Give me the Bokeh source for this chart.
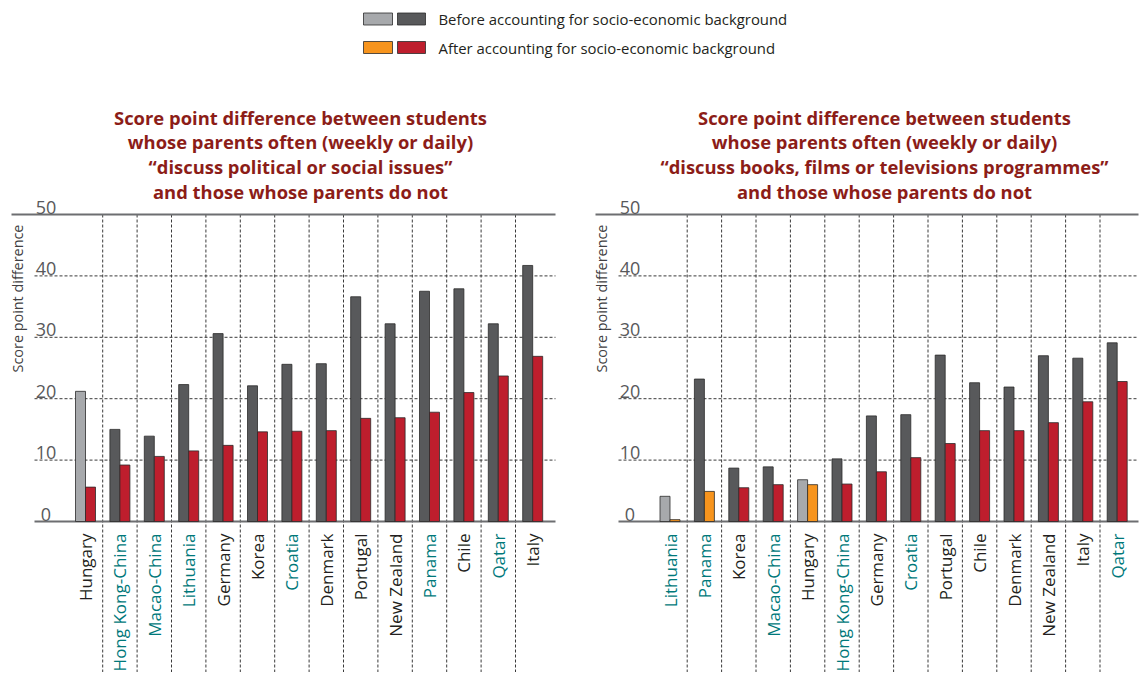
import math
from bokeh.plotting import figure
from bokeh.models import Range1d, ColumnDataSource
from bokeh.core.properties import value
from bokeh.embed import file_html
from bokeh.resources import INLINE

# ---------------- data ----------------
pol_countries = ["Hungary", "Hong Kong-China", "Macao-China", "Lithuania", "Germany", "Korea",
                 "Croatia", "Denmark", "Portugal", "New Zealand", "Panama", "Chile", "Qatar", "Italy"]
pol_before = [21.2, 15.0, 13.9, 22.3, 30.6, 22.1, 25.6, 25.7, 36.6, 32.2, 37.5, 37.9, 32.2, 41.7]
pol_after = [5.6, 9.2, 10.6, 11.5, 12.4, 14.6, 14.7, 14.8, 16.8, 16.9, 17.8, 21.0, 23.7, 26.9]
pol_before_sig = [False, True, True, True, True, True, True, True, True, True, True, True, True, True]
pol_after_sig = [True] * 14

book_countries = ["Lithuania", "Panama", "Korea", "Macao-China", "Hungary", "Hong Kong-China", "Germany",
                  "Croatia", "Portugal", "Chile", "Denmark", "New Zealand", "Italy", "Qatar"]
book_before = [4.1, 23.2, 8.7, 8.9, 6.8, 10.2, 17.2, 17.4, 27.1, 22.6, 21.9, 27.0, 26.6, 29.1]
book_after = [0.3, 4.9, 5.5, 6.0, 6.0, 6.1, 8.1, 10.4, 12.7, 14.8, 14.8, 16.1, 19.5, 22.8]
book_before_sig = [False, True, True, True, False, True, True, True, True, True, True, True, True, True]
book_after_sig = [False, False, True, True, False, True, True, True, True, True, True, True, True, True]

partners = ["Hong Kong-China", "Macao-China", "Lithuania", "Croatia", "Panama", "Qatar"]

y_ticks = [0, 10, 20, 30, 40, 50]
y_title = "Score point difference"
legend_labels = ["Before accounting for socio-economic background",
                 "After accounting for socio-economic background"]
pol_title = ["Score point difference between students",
             "whose parents often (weekly or daily)",
             "\u201cdiscuss political or social issues\u201d",
             "and those whose parents do not"]
book_title = ["Score point difference between students",
              "whose parents often (weekly or daily)",
              "\u201cdiscuss books, films or televisions programmes\u201d",
              "and those whose parents do not"]

# ---------------- styling / layout ----------------
C_LIGHT = "#a7a9ac"
C_DARK = "#58595b"
C_ORANGE = "#f7941d"
C_RED = "#be1e2d"
C_TEAL = "#00787a"
C_BLACK = "#231f20"
C_TITLE = "#8c1d18"
FONT = "Open Sans"

W, H = 1140, 672
Y0_PX, Y50_PX = 521.0, 214.0          # pixel rows of 0 and 50
PXY = (Y0_PX - Y50_PX) / 50.0
PXX = 34.4                            # pixels per category
C0_LEFT, C0_RIGHT = 85.0, 669.5       # pixel of first category centre

def yv(py):
    return (Y0_PX - py) / PXY

def xv(px, c0):
    return (px - c0) / PXX

p = figure(width=W, height=H,
           x_range=Range1d(xv(0, C0_LEFT), xv(W, C0_LEFT)),
           y_range=Range1d(yv(H), yv(0)),
           x_axis_type=None, y_axis_type=None,
           output_backend="svg", toolbar_location=None, min_border=0)
p.extra_x_ranges = {"right": Range1d(xv(0, C0_RIGHT), xv(W, C0_RIGHT))}
p.outline_line_color = None
p.grid.visible = False
p.background_fill_color = "white"


def panel(countries, before, after, bsig, asig, title, c0, rname, axis_left_px, grid_left_px, axis_right_px):
    n = len(countries)
    xs = list(range(n))
    kw = {} if rname is None else {"x_range_name": rname}

    x_grid0 = xv(grid_left_px, c0)
    x_axis0 = xv(axis_left_px, c0)
    x_end = xv(axis_right_px, c0)
    inner = [t for t in y_ticks if 0 < t < 50]
    p.segment(x0=[x_grid0] * len(inner), x1=[x_end] * len(inner), y0=inner, y1=inner,
              line_color="#3a3a3a", line_width=1, line_dash="3 2", **kw)
    seps = [i + 0.5 for i in range(n - 1)]
    p.segment(x0=seps, x1=seps, y0=[50] * len(seps), y1=[yv(H + 10)] * len(seps),
              line_color="#3a3a3a", line_width=1, line_dash="3 2", **kw)
    p.segment(x0=[x_axis0], x1=[x_end], y0=[50], y1=[50], line_color="#6d6e71", line_width=2, **kw)
    p.segment(x0=[x_grid0], x1=[x_end], y0=[0], y1=[0], line_color="#6d6e71", line_width=2, **kw)

    # tick labels above the grid lines
    p.text(x=[xv(grid_left_px + 11.5, c0)] * len(y_ticks), y=y_ticks, text=[str(t) for t in y_ticks],
           text_font=value(FONT), text_font_size="18px", text_color="#58595b",
           text_align="center", text_baseline="bottom", y_offset=-1, **kw)

    # y axis title
    p.text(x=[xv(axis_left_px + 6, c0)], y=[yv(298)], text=[y_title], angle=math.pi / 2,
           text_font=value(FONT), text_font_size="14.4px", text_color="#414042",
           text_align="center", text_baseline="middle", **kw)

    # bars
    bw = 10.0 / PXX
    src = ColumnDataSource(dict(
        xb=[x - bw / 2 for x in xs], xa=[x + bw / 2 for x in xs],
        before=before, after=after,
        cb=[C_DARK if s else C_LIGHT for s in bsig],
        ca=[C_RED if s else C_ORANGE for s in asig],
    ))
    p.vbar(x="xb", width=bw, bottom=0, top="before", fill_color="cb",
           line_color="#2b2b2b", line_width=0.8, source=src, **kw)
    p.vbar(x="xa", width=bw, bottom=0, top="after", fill_color="ca",
           line_color="#2b2b2b", line_width=0.8, source=src, **kw)

    # category labels
    lsrc = ColumnDataSource(dict(x=xs, y=[yv(533)] * n, t=countries,
                                 c=[C_TEAL if c in partners else C_BLACK for c in countries]))
    p.text(x="x", y="y", text="t", text_color="c", angle=math.pi / 2,
           text_font=value(FONT), text_font_size="17px",
           text_align="right", text_baseline="middle", source=lsrc, **kw)

    # title
    tc = xv(axis_left_px + 289, c0)
    p.text(x=[tc] * len(title), y=[yv(117), yv(141), yv(166), yv(191)], text=title,
           text_font=value(FONT), text_font_style="bold", text_font_size="18.4px",
           text_color=C_TITLE, text_align="center", text_baseline="middle", **kw)


panel(pol_countries, pol_before, pol_after, pol_before_sig, pol_after_sig, pol_title,
      C0_LEFT, None, 11, 34, 555)
panel(book_countries, book_before, book_after, book_before_sig, book_after_sig, book_title,
      C0_RIGHT, "right", 595, 618, 1138)

# legend (in left-panel coordinates)
sq_left = [363, 397, 363, 397]
sq_right = [392, 425, 392, 425]
sq_top = [12.5, 12.5, 41, 41]
sq_bot = [24.5, 24.5, 53, 53]
p.quad(left=[xv(v, C0_LEFT) for v in sq_left], right=[xv(v, C0_LEFT) for v in sq_right],
       top=[yv(v) for v in sq_top], bottom=[yv(v) for v in sq_bot],
       fill_color=[C_LIGHT, C_DARK, C_ORANGE, C_RED], line_color="#2b2b2b", line_width=0.8)
p.text(x=[xv(438, C0_LEFT)] * 2, y=[yv(18.5), yv(47)], text=legend_labels,
       text_font=value(FONT), text_font_size="14.9px", text_color="#231f20",
       text_align="left", text_baseline="middle")

open("out.html", "w").write(file_html(p, INLINE))
